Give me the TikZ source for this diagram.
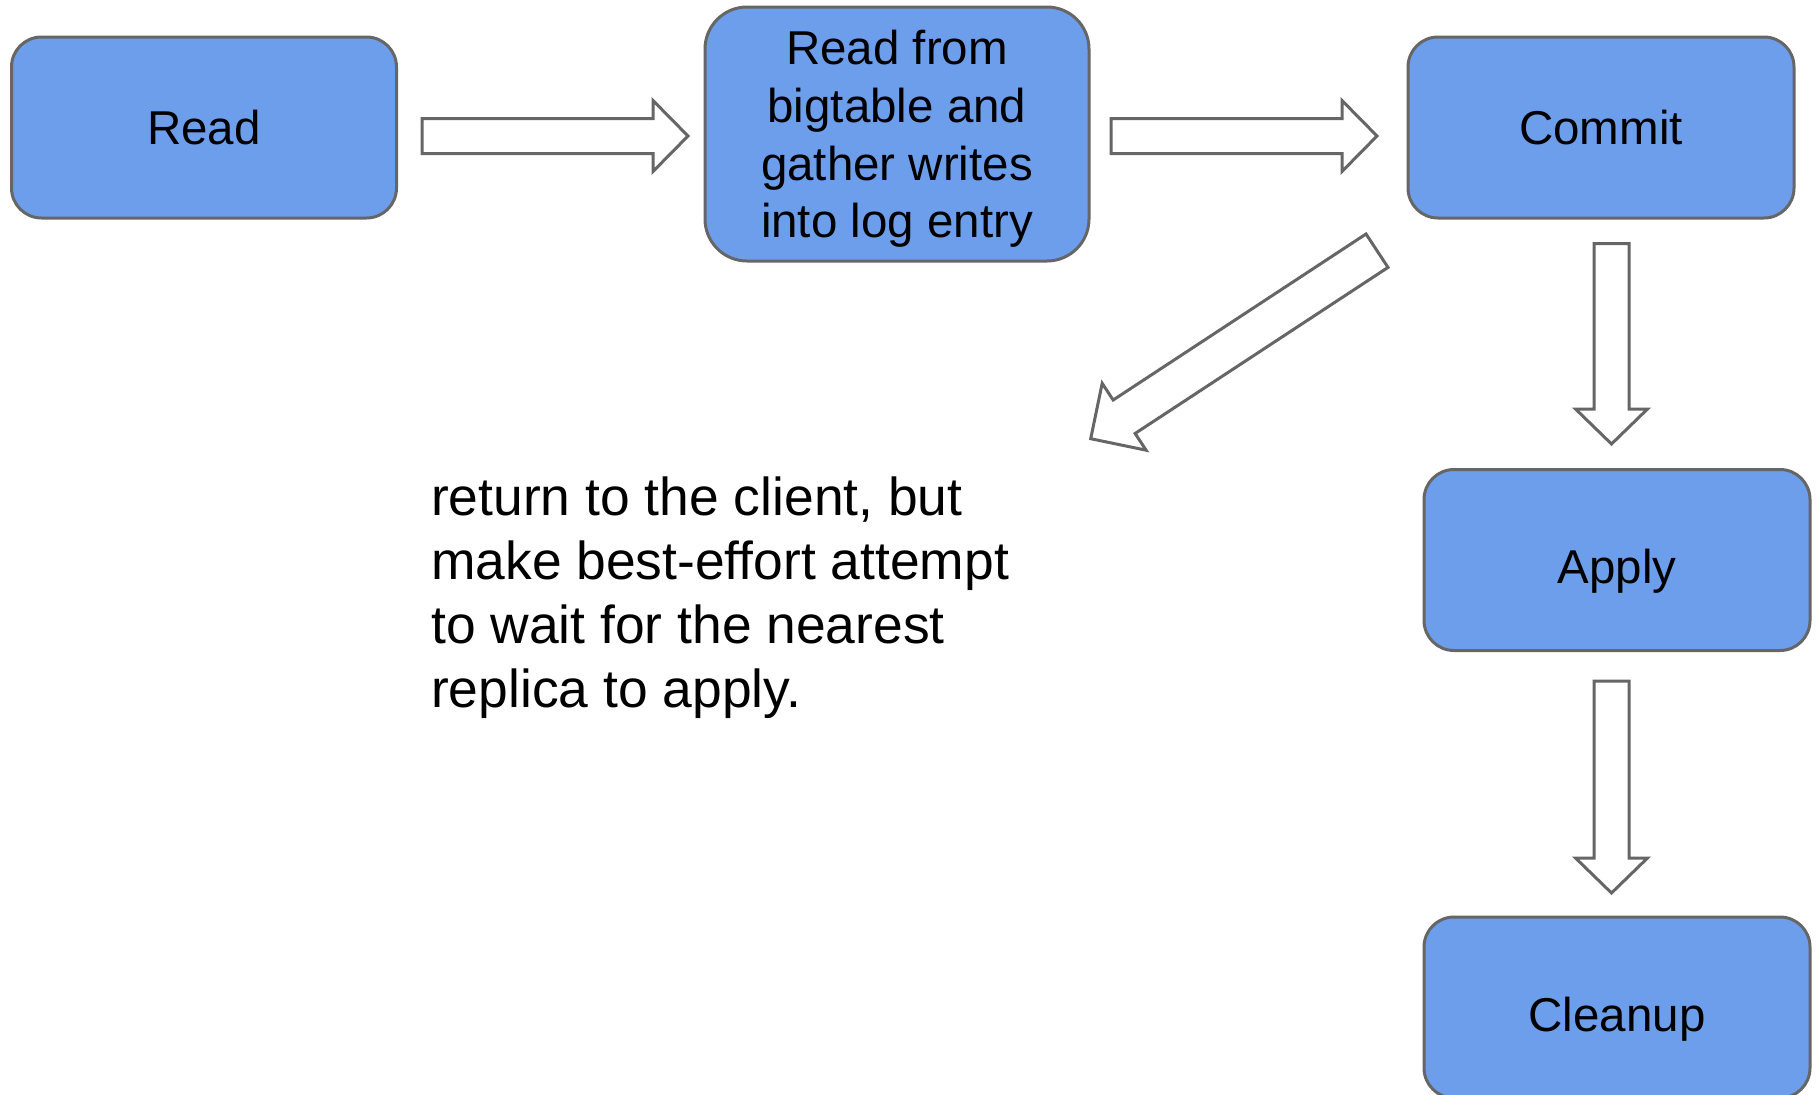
\documentclass[tikz,border=0pt]{standalone}
\usepackage{fontspec}
\setmainfont{Liberation Sans}
\usetikzlibrary{calc}
\definecolor{boxblue}{HTML}{6D9EEB}
\definecolor{edgegray}{HTML}{666666}
\newcommand\boxfont{\fontsize{47.5}{57.6}\selectfont}
\newcommand\notefont{\fontsize{53.4}{64}\selectfont}
\tikzset{
  box/.style={draw=edgegray, fill=boxblue, line width=3pt, rounded corners=30pt,
    minimum width=385pt, minimum height=181pt, inner sep=0pt, align=center, font=\boxfont},
  lowtext/.style={text height=57.6pt, text depth=10pt},
  fat/.style={draw=edgegray, fill=white, line width=3pt, line join=miter},
  note/.style={inner sep=0pt, align=left, anchor=north west, font=\notefont}
}
% #1 start, #2 tip, #3 half shaft width, #4 half head width, #5 head length
\newcommand\fatarrow[5]{%
  \coordinate (hb) at ($(#2)!#5!(#1)$);
  \draw[fat] ($(#1)!#3!90:(#2)$) -- ($(hb)!#3!90:(#2)$) -- ($(hb)!#4!90:(#2)$) -- (#2)
    -- ($(hb)!#4!-90:(#2)$) -- ($(hb)!#3!-90:(#2)$) -- ($(#1)!#3!-90:(#2)$) -- cycle;
}
\begin{document}
\begin{tikzpicture}[x=1pt, y=-1pt]
\useasboundingbox (0,0) rectangle (1818,1095);
\clip (0,0) rectangle (1818,1095);

\node[box] (read) at (204,127.5) {Read};
\node[box, minimum width=384pt, minimum height=254pt, rounded corners=42pt] (gather) at (897,134)
  {\rule{0pt}{44.5pt}Read from\\bigtable and\\gather writes\\into log entry};
\node[box, minimum width=386pt] (commit) at (1601,127.5) {Commit};
\node[box, lowtext, minimum width=386pt] (apply) at (1617,560) {Apply};
\node[box, lowtext, minimum width=386pt] (cleanup) at (1617,1007.5) {Cleanup};

\node[note] (msg) at (431,477) {return to the client, but\\make best-effort attempt\\to wait for the nearest\\replica to apply.};

\coordinate (a1s) at (422,136);   \coordinate (a1e) at (688,136);
\coordinate (a2s) at (1111,136);  \coordinate (a2e) at (1377,136);
\coordinate (a3s) at (1611.5,243.5); \coordinate (a3e) at (1611.5,444);
\coordinate (a4s) at (1611.5,681);   \coordinate (a4e) at (1611.5,893);
\coordinate (a5s) at (1377,250.7);   \coordinate (a5e) at (1090.7,438.7);

\fatarrow{a1s}{a1e}{17.5pt}{35.5pt}{35pt}
\fatarrow{a2s}{a2e}{17.5pt}{35.5pt}{35pt}
\fatarrow{a3s}{a3e}{17.5pt}{36pt}{35pt}
\fatarrow{a4s}{a4e}{17.5pt}{36pt}{35pt}
\fatarrow{a5s}{a5e}{20pt}{40pt}{40pt}
\end{tikzpicture}
\end{document}
